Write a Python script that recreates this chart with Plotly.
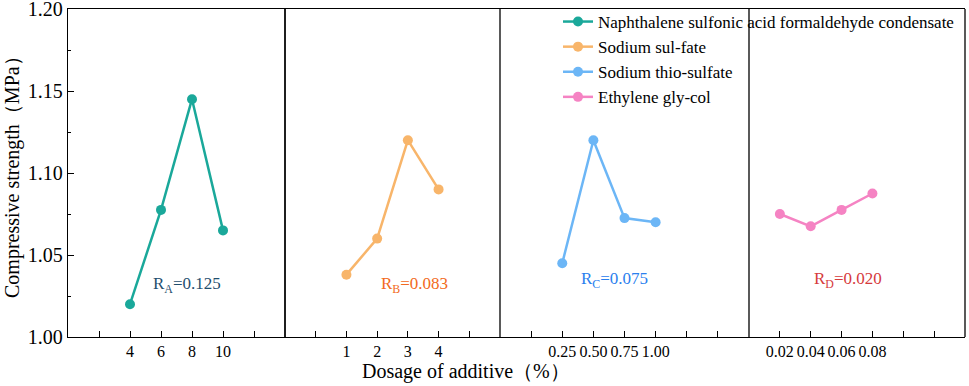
import plotly.graph_objects as go

# ---- data ----
series_names = [
    "Naphthalene sulfonic acid formaldehyde condensate",
    "Sodium sul-fate",
    "Sodium thio-sulfate",
    "Ethylene gly-col",
]
dosage_a = [4, 6, 8, 10]
strength_a = [1.020, 1.0775, 1.145, 1.065]
dosage_b = [1, 2, 3, 4]
strength_b = [1.038, 1.060, 1.120, 1.090]
dosage_c = [0.25, 0.50, 0.75, 1.00]
strength_c = [1.045, 1.120, 1.0725, 1.070]
dosage_d = [0.02, 0.04, 0.06, 0.08]
strength_d = [1.075, 1.0675, 1.0775, 1.0875]
range_labels = ["R<sub>A</sub>=0.125", "R<sub>B</sub>=0.083", "R<sub>C</sub>=0.075", "R<sub>D</sub>=0.020"]

x_tickvals = [
    [4, 6, 8, 10],
    [1, 2, 3, 4],
    [0.25, 0.5, 0.75, 1.0],
    [0.02, 0.04, 0.06, 0.08],
]
x_ticktext = [
    ["4", "6", "8", "10"],
    ["1", "2", "3", "4"],
    ["0.25", "0.50", "0.75", "1.00"],
    ["0.02", "0.04", "0.06", "0.08"],
]
x_minor_dtick = [2, 1, 0.25, 0.02]
y_tickvals = [1.00, 1.05, 1.10, 1.15, 1.20]
y_ticktext = ["1.00", "1.05", "1.10", "1.15", "1.20"]

# ---- styling ----
FONT = "Liberation Serif, Times New Roman, serif"
colors = ["#1aa89a", "#f8b56a", "#6cb6f6", "#f583c3"]
label_colors = ["#1f4e6e", "#f26a21", "#2a80ee", "#d63a3c"]
x_ranges = [[0, 14], [-1, 6], [-0.25, 1.75], [0, 0.14]]
W, H = 969, 386
L, R, T, B = 68, 4, 9, 49
pw = W - L - R
ph = H - T - B
edges_px = [68, 285, 500, 749, 965]
domains = [[(edges_px[i] - L) / pw, (edges_px[i + 1] - L) / pw] for i in range(4)]
domains[-1][1] = 1.0


def px_x(x):  # window px -> paper
    return (x - L) / pw


def px_y(y):  # window px -> paper
    return (H - B - y) / ph


xs = [dosage_a, dosage_b, dosage_c, dosage_d]
ys = [strength_a, strength_b, strength_c, strength_d]

fig = go.Figure()
for i in range(4):
    sfx = "" if i == 0 else str(i + 1)
    fig.add_trace(go.Scatter(
        x=xs[i], y=ys[i], name=series_names[i], mode="lines+markers",
        line=dict(color=colors[i], width=2.5),
        marker=dict(color=colors[i], size=10),
        xaxis="x" + sfx, yaxis="y",
    ))

layout = dict(
    width=W, height=H,
    margin=dict(l=L, r=R, t=T, b=B, autoexpand=False),
    plot_bgcolor="white", paper_bgcolor="white",
    font=dict(family=FONT, color="black", size=17),
    showlegend=True,
    legend=dict(
        x=px_x(558), y=px_y(4), xanchor="left", yanchor="top",
        bgcolor="rgba(0,0,0,0)", borderwidth=0,
        font=dict(family=FONT, size=17, color="black"),
        tracegroupgap=0,
    ),
    yaxis=dict(
        range=[1.00, 1.20], domain=[0, 1],
        tickvals=y_tickvals, ticktext=y_ticktext,
        ticks="inside", ticklen=6, tickwidth=1.3, tickcolor="black",
        minor=dict(ticks="inside", ticklen=3, tickwidth=1.3, tickcolor="black",
                   dtick=0.025, tick0=1.0),
        showline=True, linecolor="black", linewidth=1.3,
        showgrid=False, zeroline=False, automargin=False,
        ticklabeloverflow="allow",
        tickfont=dict(family=FONT, size=20, color="black"),
        anchor="x",
    ),
)
for i in range(4):
    key = "xaxis" if i == 0 else "xaxis%d" % (i + 1)
    layout[key] = dict(
        domain=domains[i], range=x_ranges[i],
        tickvals=x_tickvals[i], ticktext=x_ticktext[i], tickangle=0,
        ticks="inside", ticklen=6, tickwidth=1.3, tickcolor="black",
        minor=dict(ticks="inside", ticklen=6, tickwidth=1.3, tickcolor="black",
                   dtick=x_minor_dtick[i], tick0=0),
        showline=True, linecolor="black", linewidth=1.3, mirror=True,
        showgrid=False, zeroline=False, automargin=False,
        ticklabeloverflow="allow",
        tickfont=dict(family=FONT, size=16, color="black"),
        anchor="y",
    )
fig.update_layout(**layout)

# panel borders
for i in range(1, 4):
    fig.add_shape(type="line", xref="x%d domain" % (i + 1), yref="y domain",
                  x0=0, x1=0, y0=0, y1=1, line=dict(color="black", width=1.3))
fig.add_shape(type="line", xref="x domain", yref="y domain",
              x0=1, x1=1, y0=0, y1=1, line=dict(color="black", width=1.3))
fig.add_shape(type="line", xref="x4 domain", yref="y domain",
              x0=1, x1=1, y0=0, y1=1, line=dict(color="black", width=1.3))

# range annotations
ann_pos = [(7.7, 1.032), (3.2, 1.032), (0.67, 1.035), (0.064, 1.035)]
for i in range(4):
    sfx = "" if i == 0 else str(i + 1)
    fig.add_annotation(x=ann_pos[i][0], y=ann_pos[i][1], xref="x" + sfx, yref="y",
                       text=range_labels[i], showarrow=False,
                       font=dict(family=FONT, size=17, color=label_colors[i]))

# axis titles
fig.add_annotation(x=px_x(12), y=px_y(172), xref="paper", yref="paper",
                   text="Compressive strength（MPa）", textangle=-90, showarrow=False,
                   xanchor="center", yanchor="middle",
                   font=dict(family=FONT, size=20, color="black"))
fig.add_annotation(x=px_x(466), y=px_y(371), xref="paper", yref="paper",
                   text="Dosage of additive（%）", showarrow=False,
                   xanchor="center", yanchor="middle",
                   font=dict(family=FONT, size=20, color="black"))

fig.write_html(
    "out.html",
    config={"displayModeBar": False},
    post_script="document.body.style.margin='0';document.body.style.overflow='hidden';",
)
